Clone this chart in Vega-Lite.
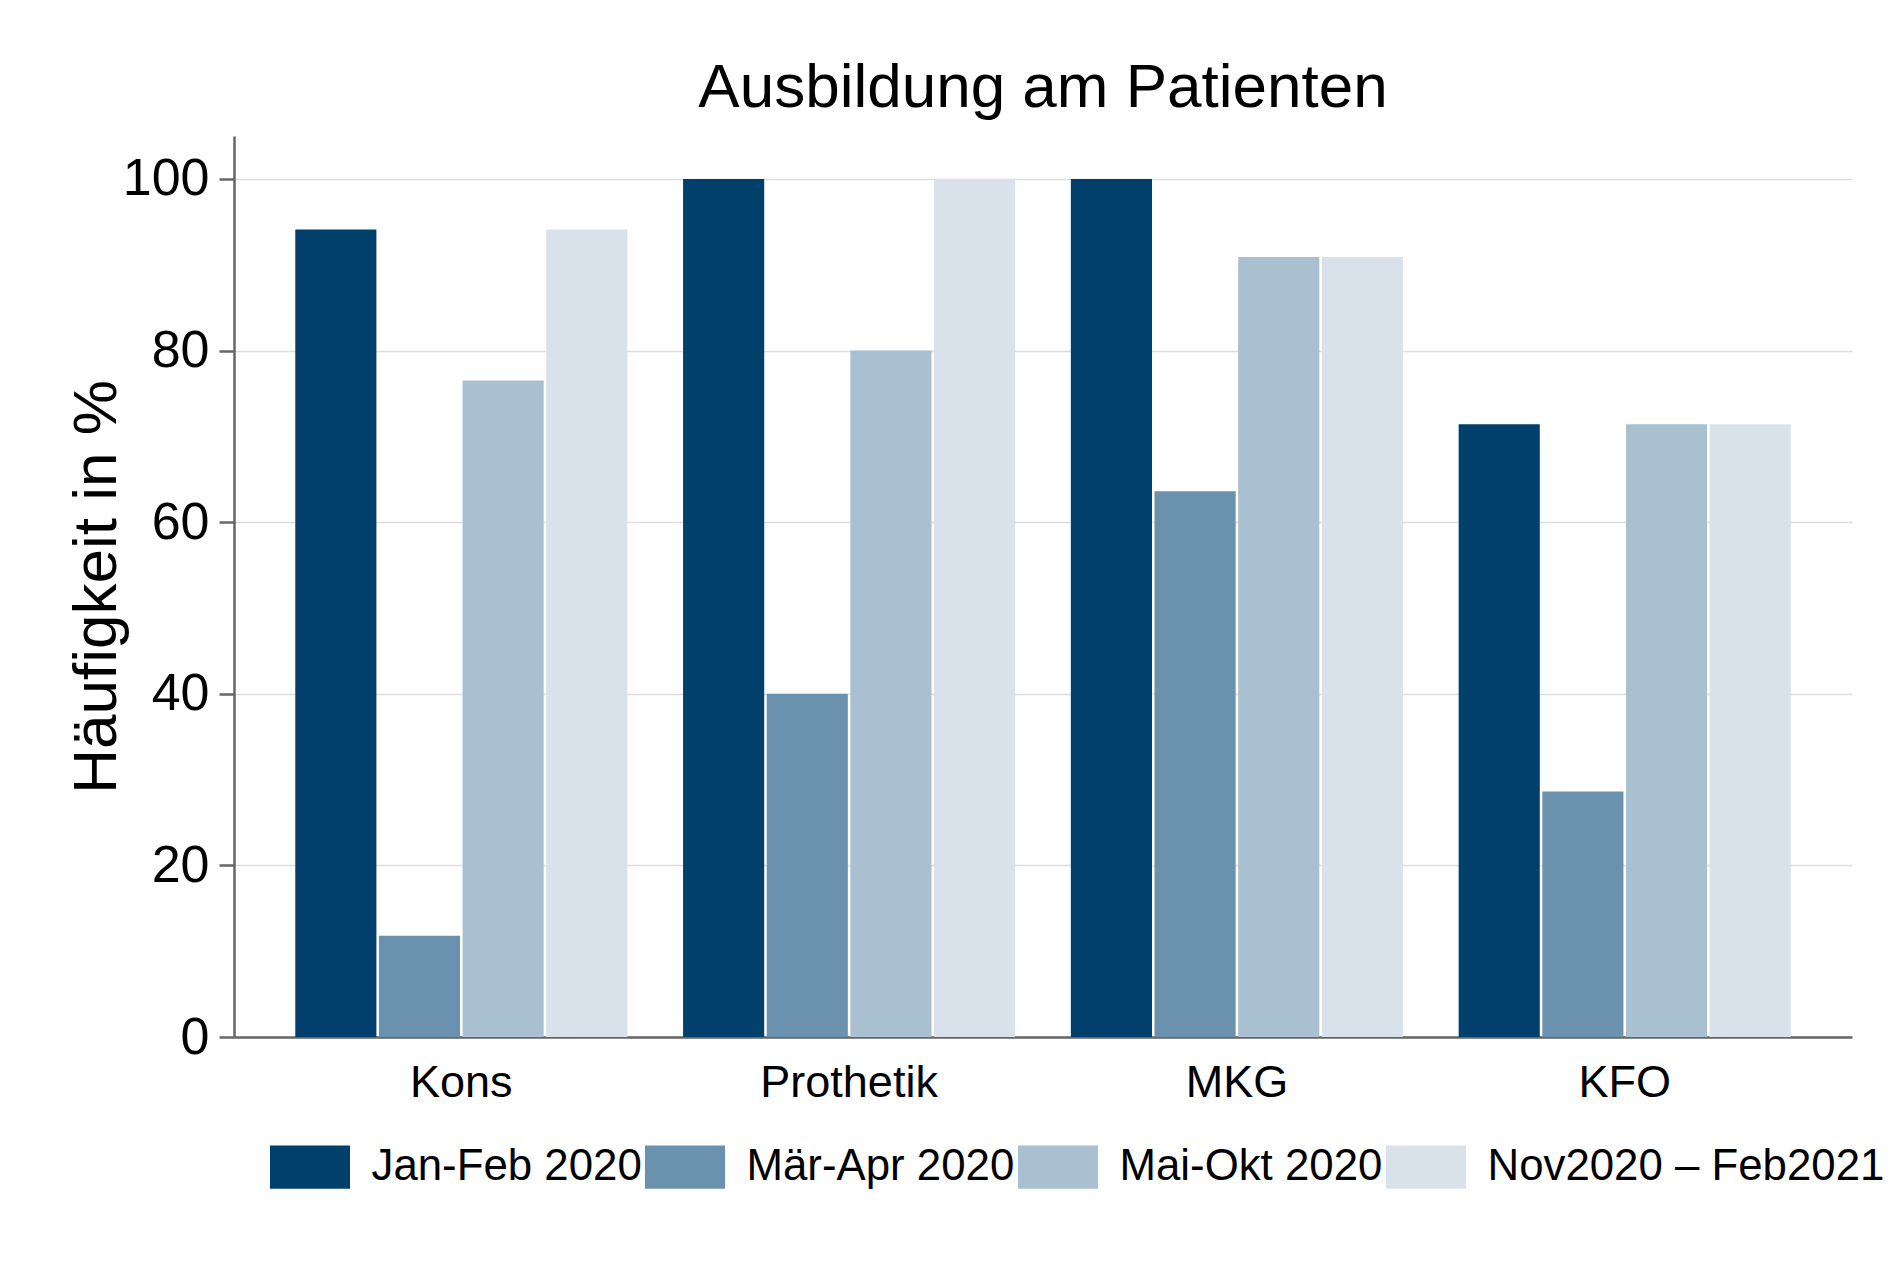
{
  "$schema": "https://vega.github.io/schema/vega-lite/v6.json",
  "autosize": {"type": "none"},
  "padding": {"left": 234, "top": 136, "right": 48, "bottom": 230},
  "width": 1618,
  "height": 901,
  "background": "white",
  "title": {
    "text": "Ausbildung am Patienten",
    "font": "Liberation Sans",
    "fontSize": 62,
    "fontWeight": "normal",
    "color": "black",
    "anchor": "middle",
    "offset": 16
  },
  "data": {
    "values": [
      {"fach": "Kons", "zeitraum": "Jan-Feb 2020", "wert": 94.1},
      {"fach": "Kons", "zeitraum": "Mär-Apr 2020", "wert": 11.8},
      {"fach": "Kons", "zeitraum": "Mai-Okt 2020", "wert": 76.5},
      {"fach": "Kons", "zeitraum": "Nov2020 – Feb2021", "wert": 94.1},
      {"fach": "Prothetik", "zeitraum": "Jan-Feb 2020", "wert": 100},
      {"fach": "Prothetik", "zeitraum": "Mär-Apr 2020", "wert": 40},
      {"fach": "Prothetik", "zeitraum": "Mai-Okt 2020", "wert": 80},
      {"fach": "Prothetik", "zeitraum": "Nov2020 – Feb2021", "wert": 100},
      {"fach": "MKG", "zeitraum": "Jan-Feb 2020", "wert": 100},
      {"fach": "MKG", "zeitraum": "Mär-Apr 2020", "wert": 63.6},
      {"fach": "MKG", "zeitraum": "Mai-Okt 2020", "wert": 90.9},
      {"fach": "MKG", "zeitraum": "Nov2020 – Feb2021", "wert": 90.9},
      {"fach": "KFO", "zeitraum": "Jan-Feb 2020", "wert": 71.4},
      {"fach": "KFO", "zeitraum": "Mär-Apr 2020", "wert": 28.6},
      {"fach": "KFO", "zeitraum": "Mai-Okt 2020", "wert": 71.4},
      {"fach": "KFO", "zeitraum": "Nov2020 – Feb2021", "wert": 71.4}
    ]
  },
  "mark": {"type": "bar"},
  "encoding": {
    "x": {
      "field": "fach",
      "type": "nominal",
      "sort": ["Kons", "Prothetik", "MKG", "KFO"],
      "scale": {"paddingInner": 0.1437, "paddingOuter": 0.158},
      "axis": {
        "title": null,
        "labelAngle": 0,
        "labelFont": "Liberation Sans",
        "labelFontSize": 45,
        "labelColor": "black",
        "labelPadding": 23,
        "ticks": false,
        "domainColor": "#666666",
        "domainWidth": 2.5,
        "grid": false
      }
    },
    "xOffset": {
      "field": "zeitraum",
      "type": "nominal",
      "sort": ["Jan-Feb 2020", "Mär-Apr 2020", "Mai-Okt 2020", "Nov2020 – Feb2021"],
      "scale": {"paddingInner": 0.03, "paddingOuter": 0}
    },
    "y": {
      "field": "wert",
      "type": "quantitative",
      "scale": {"domain": [0, 105], "nice": false},
      "axis": {
        "title": "Häufigkeit in %",
        "titleFont": "Liberation Sans",
        "titleFontSize": 62,
        "titleFontWeight": "normal",
        "titleColor": "black",
        "titlePadding": -6,
        "values": [0, 20, 40, 60, 80, 100],
        "labelFont": "Liberation Sans",
        "labelFontSize": 52,
        "labelColor": "black",
        "labelPadding": 10,
        "tickSize": 15,
        "tickWidth": 2.5,
        "tickColor": "#666666",
        "domainColor": "#666666",
        "domainWidth": 2.5,
        "grid": true,
        "gridColor": "#dddddd",
        "gridWidth": 1.7
      }
    },
    "color": {
      "field": "zeitraum",
      "type": "nominal",
      "sort": ["Jan-Feb 2020", "Mär-Apr 2020", "Mai-Okt 2020", "Nov2020 – Feb2021"],
      "scale": {
        "domain": ["Jan-Feb 2020", "Mär-Apr 2020", "Mai-Okt 2020", "Nov2020 – Feb2021"],
        "range": ["#013f6c", "#6a92ae", "#a8c0cf", "#d9e2ea"]
      },
      "legend": {
        "title": null,
        "orient": "none",
        "legendX": 36,
        "legendY": 991,
        "direction": "horizontal",
        "columns": 4,
        "padding": 0,
        "symbolType": "M-1,-0.54H1V0.54H-1Z",
        "symbolSize": 6400,
        "symbolStrokeWidth": 0,
        "symbolOpacity": 1,
        "labelFont": "Liberation Sans",
        "labelFontSize": 43.8,
        "labelColor": "black",
        "labelOffset": 21.5,
        "labelLimit": 500,
        "columnPadding": 3
      }
    }
  },
  "config": {
    "view": {"stroke": null}
  }
}
